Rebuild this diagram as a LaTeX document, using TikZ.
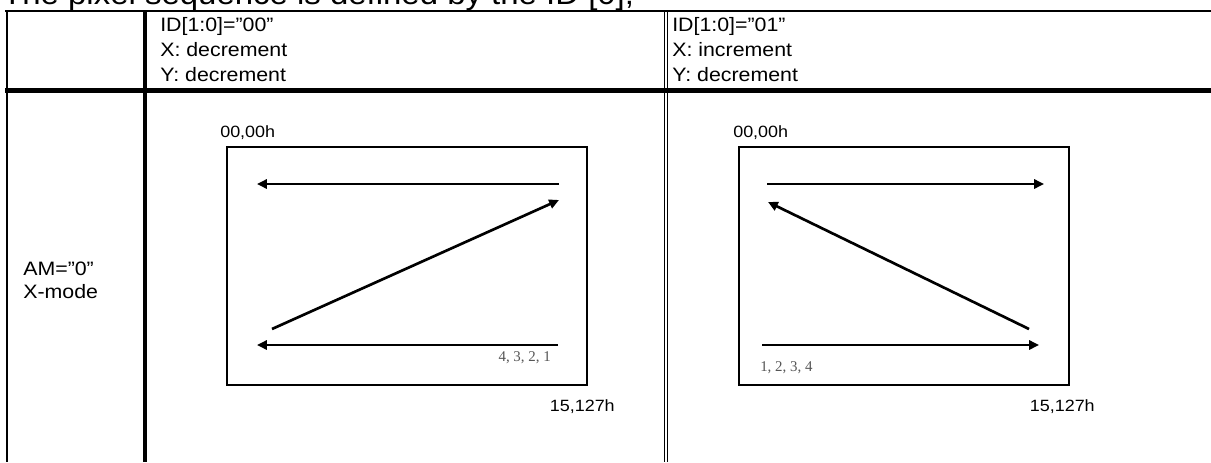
\documentclass[tikz,border=0pt]{standalone}
\usepackage{fontspec}
\setmainfont[FakeStretch=1.1]{Liberation Sans}
\newfontfamily\seqfont{Liberation Serif}
\usetikzlibrary{arrows.meta, positioning}
\definecolor{SeqGray}{HTML}{555555}

\begin{document}
\begin{tikzpicture}[x=0.025cm, y=-0.025cm,
    hdr/.style={anchor=north west, align=left, inner sep=0pt, font=\fontsize{13.8}{17.8}\selectfont},
    screen/.style={draw, line width=0.9pt, inner sep=0pt, outer sep=0pt, minimum height=5.95cm},
    corner/.style={inner sep=0pt, font=\fontsize{11.6}{14}\selectfont},
    seq/.style={inner sep=0pt, text=SeqGray, font=\seqfont\fontsize{10.6}{12}\selectfont},
    scan/.style={line width=1.9pt, -{Triangle[length=7pt, width=6.5pt]}}]
                \useasboundingbox (0,0) rectangle (1211,462);
                \node[anchor=base west, inner sep=0pt, font=\fontsize{21.3}{24}\selectfont] (title) at (2,4) {The pixel sequence is defined by the ID [0],};
                
                % Table
                \draw[line width=1.65pt] (5,11.2) -- (1211,11.2);
                \draw[line width=1.5pt] (6.7,10) -- (6.7,462);
                \draw[line width=2.85pt] (144.7,10) -- (144.7,462);
                \draw[line width=1pt] (664.6,10) -- (664.6,462);
                \draw[line width=1pt] (667.6,10) -- (667.6,462);
                \draw[line width=3.1pt] (5,90.5) -- (1211,90.5);
                
                \node[hdr] (hdra) at (160,17) {ID[1:0]="00”\\X: decrement\\Y: decrement};
                \node[hdr] (hdrb) at (672,17) {ID[1:0]="01”\\X: increment\\Y: decrement};
                \node[hdr, font=\fontsize{13.8}{16.4}\selectfont] (mode) at (23,262) {AM="0”\\X-mode};
                
                % Screens
                \node[screen, minimum width=9cm] (scra) at (407,266) {};
                \node[screen, minimum width=8.25cm] (scrb) at (904,266) {};
                \node[corner, anchor=base west] (orga) at (220,137) {00,00h};
                \node[corner, anchor=base east] (enda) at (615,411) {15,127h};
                \node[corner, anchor=base west] (orgb) at (733,137) {00,00h};
                \node[corner, anchor=base east] (endb) at (1095,411) {15,127h};
                \node[seq, anchor=base east] (seqa) at (551,361) {4, 3, 2, 1};
                \node[seq, anchor=base west] (seqb) at (760,371) {1, 2, 3, 4};
                
                \coordinate (a1) at (559,184); \coordinate (a2) at (257,184);
                \coordinate (a3) at (272,329); \coordinate (a4) at (559,200);
                \coordinate (a5) at (558,345); \coordinate (a6) at (257,345);
                \coordinate (b1) at (767,184); \coordinate (b2) at (1044,184);
                \coordinate (b3) at (1029,329); \coordinate (b4) at (768,202);
                \coordinate (b5) at (762,345); \coordinate (b6) at (1039,345);
                
                % Arrows
                \draw[scan] (a1) -- (a2);
                \draw[scan] (a3) -- (a4);
                \draw[scan] (a5) -- (a6);
                \draw[scan] (b1) -- (b2);
                \draw[scan] (b3) -- (b4);
                \draw[scan] (b5) -- (b6);
            \end{tikzpicture}
\end{document}
